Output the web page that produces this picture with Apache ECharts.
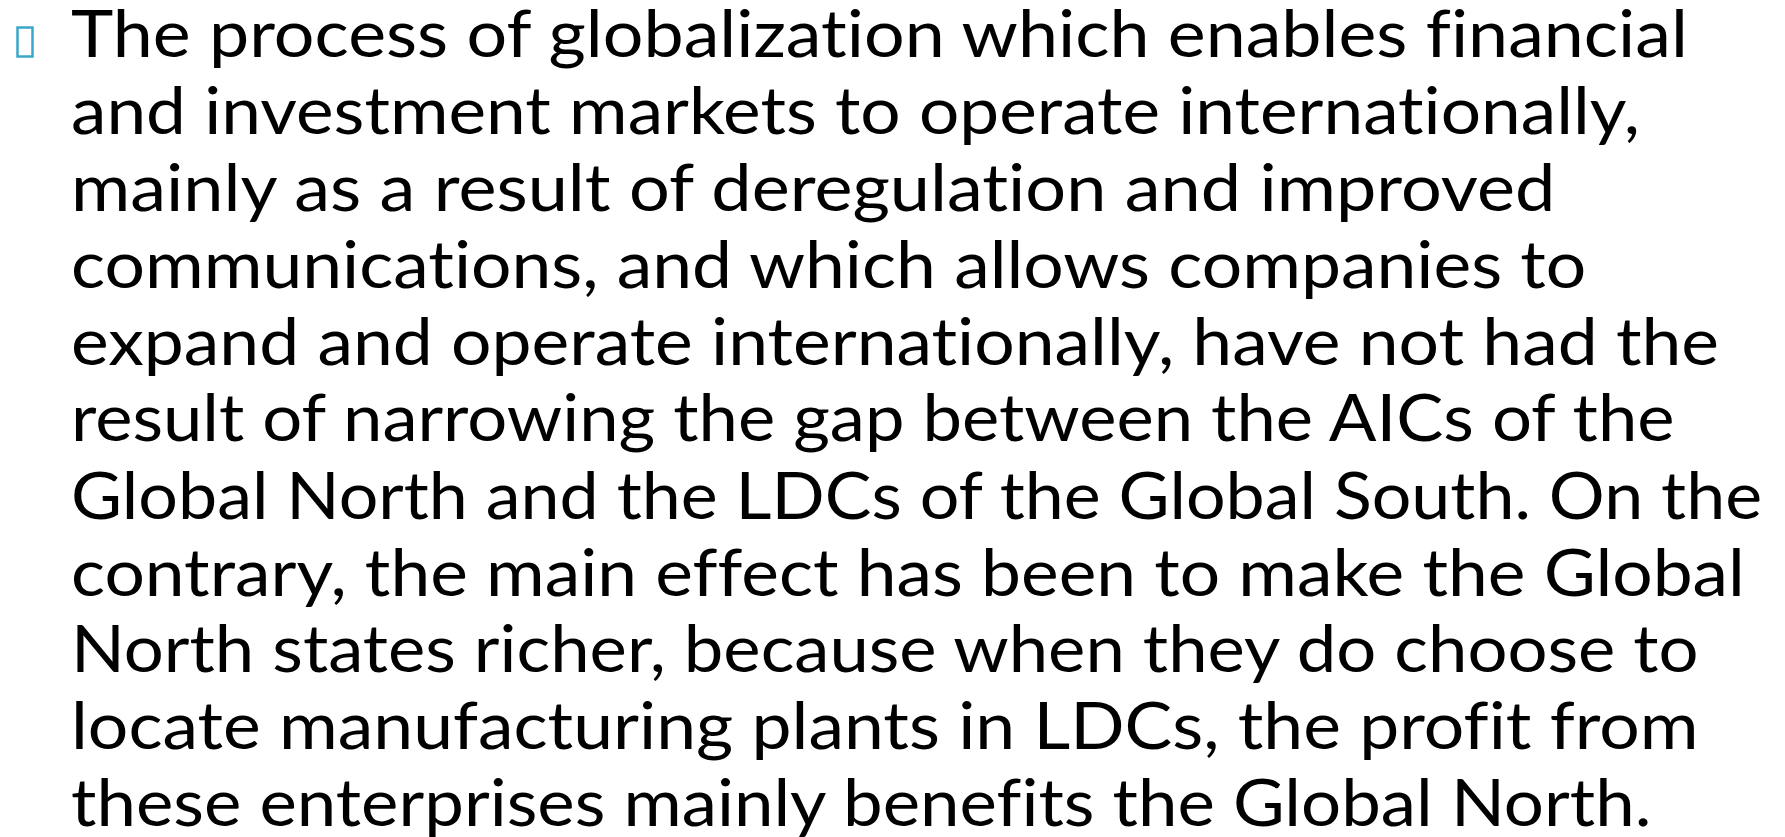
<!DOCTYPE html>
<html>
<head>
<meta charset="utf-8">
<script src="https://cdn.jsdelivr.net/npm/echarts@6/dist/echarts.min.js"></script>
<style>
html,body{margin:0;padding:0;background:#ffffff;}
#chart{width:1785px;height:837px;}
#chart text, #chart tspan{font-variant-ligatures:none !important;font-feature-settings:"liga" 0,"clig" 0,"dlig" 0 !important;}
</style>
</head>
<body>
<div id="chart"></div>
<script>
// Slide text, one entry per rendered line
const lines = [
  "The process of globalization which enables financial",
  "and investment markets to operate internationally,",
  "mainly as a result of deregulation and improved",
  "communications, and which allows companies to",
  "expand and operate internationally, have not had the",
  "result of narrowing the gap between the AICs of the",
  "Global North and the LDCs of the Global South. On the",
  "contrary, the main effect has been to make the Global",
  "North states richer, because when they do choose to",
  "locate manufacturing plants in LDCs, the profit from",
  "these enterprises mainly benefits the Global North."
];
// right ink edge of each line in the reference (px)
const lineRightEdges = [1687, 1638, 1555, 1586, 1718, 1679, 1762, 1740, 1700, 1695, 1650];

const FONT_FAMILY = 'Lato';
const FONT_SIZE = 66;
const FONT = FONT_SIZE + 'px ' + FONT_FAMILY;
const X0 = 71;
const BASE0 = 57.3;
const LINE_STEP = 76.9;

const cvs = document.createElement('canvas');
const ctx = cvs.getContext('2d');
ctx.font = FONT;
ctx.textBaseline = 'alphabetic';
try { ctx.letterSpacing = '0.01px'; } catch (e) {}

const graphics = [];
// bullet (missing-glyph box in theme colour)
graphics.push({
  type: 'rect',
  shape: {x: 17.5, y: 27.5, width: 15, height: 29},
  style: {fill: 'none', stroke: '#3aa8c8', lineWidth: 2.5}
});

lines.forEach(function (t, i) {
  const m = ctx.measureText(t);
  const A = m.fontBoundingBoxAscent, D = m.fontBoundingBoxDescent;
  const baseline = BASE0 + LINE_STEP * i;
  const midY = baseline - (A - D) / 2;
  const inkRight = m.actualBoundingBoxRight;
  const s = (lineRightEdges[i] - X0) / inkRight;
  graphics.push({
    type: 'text',
    x: X0,
    y: midY,
    scaleX: s,
    style: {
      text: t,
      x: 0, y: 0,
      font: FONT,
      lineHeight: 54,
      fill: '#000000',
      align: 'left',
      verticalAlign: 'middle'
    }
  });
});

const chart = echarts.init(document.getElementById('chart'), null, {renderer: 'svg'});
chart.setOption({
  animation: false,
  backgroundColor: '#ffffff',
  graphic: graphics
});
</script>
</body>
</html>
